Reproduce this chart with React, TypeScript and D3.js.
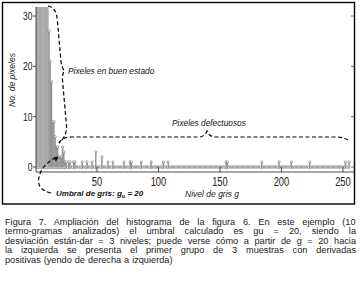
import React, { useMemo } from 'react';
import * as d3 from 'd3';

const W = 363;
const H = 281;

// Number of pixels per gray level g = 0..255 (values above ~31 are clipped by the plot)
const levelCounts: number[] = [
  210, 180, 150, 120, 95, 80, 66, 55, 46, 40,
  34, 27, 21, 17, 9, 9, 6, 4, 4, 2,
  2, 2, 4, 3, 1, 1, 0, 1, 1, 0,
  0, 1, 1, 0, 0, 0, 0, 0, 1, 0,
  0, 0, 1, 0, 0, 0, 1, 0, 0, 3,
  0, 0, 0, 0, 2, 0, 0, 0, 0, 1,
  0, 0, 0, 1, 0, 0, 0, 0, 0, 0,
  0, 0, 1, 0, 0, 0, 0, 1, 1, 0,
  0, 0, 0, 0, 0, 0, 1, 0, 0, 0,
  0, 0, 0, 0, 1, 0, 0, 0, 0, 0,
  0, 0, 0, 0, 1, 0, 0, 0, 1, 0,
  0, 0, 0, 0, 0, 0, 0, 0, 0, 0,
  0, 0, 0, 0, 0, 0, 0, 0, 0, 0,
  0, 0, 0, 0, 0, 0, 0, 0, 0, 0,
  0, 0, 0, 0, 0, 0, 0, 0, 0, 0,
  0, 0, 0, 0, 0, 1, 1, 0, 0, 0,
  0, 0, 0, 0, 0, 0, 0, 0, 0, 0,
  0, 0, 0, 0, 0, 0, 0, 0, 0, 0,
  0, 0, 0, 0, 1, 0, 0, 0, 0, 0,
  0, 0, 0, 0, 0, 0, 0, 0, 1, 0,
  0, 0, 0, 0, 0, 0, 0, 0, 1, 0,
  0, 0, 0, 0, 0, 0, 0, 0, 0, 0,
  0, 0, 0, 1, 0, 0, 0, 0, 0, 0,
  0, 0, 0, 0, 0, 0, 0, 0, 0, 0,
  0, 0, 0, 0, 0, 0, 0, 0, 0, 0,
  0, 0, 1, 0, 0, 1,
];

const xTicks = [50, 100, 150, 200, 250];
const yTicks = [0, 10, 20, 30];

const yAxisTitle = 'No. de pixeles';
const xAxisTitle = 'Nivel de gris g';
const goodLabel = 'Pixeles en buen estado';
const badLabel = 'Pixeles defectuosos';

const captionLines = [
  'Figura 7. Ampliación del histograma de la figura 6. En este ejemplo (10',
  'termo-gramas analizados) el umbral calculado es gu = 20, siendo la',
  'desviación están-dar = 3 niveles; puede verse cómo a partir de g = 20 hacia',
  'la izquierda se presenta el primer grupo de 3 muestras con derivadas',
  'positivas (yendo de derecha a izquierda)',
];

const CAP_FONT_SIZE = 9.2;
const CAP_FAMILY = '"Liberation Sans", Arial, sans-serif';

function measure(text: string): number {
  const c = document.createElement('canvas');
  const ctx = c.getContext('2d');
  if (!ctx) return text.length * CAP_FONT_SIZE * 0.5;
  ctx.font = `${CAP_FONT_SIZE}px ${CAP_FAMILY}`;
  return ctx.measureText(text).width;
}

export default function App() {
  const plot = { left: 36, right: 354, top: 7, bottom: 172 };
  const x = d3.scaleLinear().domain([0, 259]).range([35.5, 354]);
  const y = d3.scaleLinear().domain([0, 30]).range([167, 16]);
  const step = x(1) - x(0);

  const caption = useMemo(() => {
    const left = 5;
    const right = 356;
    const baseY = 225;
    const lh = 9.4;
    return captionLines.map((line, i) => {
      const isLast = i === captionLines.length - 1;
      const nSpaces = line.split(' ').length - 1;
      const full = measure(line);
      const ws = isLast ? 0.4 : Math.max(0, (right - left - full) / nSpaces);
      return { line, y: baseY + i * lh, ws, x: left, key: i };
    });
  }, []);

  const data = levelCounts.map((v, g) => ({ g, v }));

  return (
    <svg width={W} height={H} style={{ display: 'block', position: 'absolute', left: 0, top: 0 }}>
      <defs>
        <clipPath id="plotClip">
          <rect x={plot.left} y={plot.top} width={plot.right - plot.left} height={plot.bottom - plot.top} />
        </clipPath>
      </defs>
      <rect x={0} y={0} width={W} height={H} fill="#fff" />

      {/* outer frame */}
      <rect x={2.5} y={2.5} width={352} height={201.5} fill="none" stroke="#000" strokeWidth={1.4} />

      <g clipPath="url(#plotClip)">
        {/* grey histogram bars */}
        {data.filter((d) => d.v > 0).map((d) => (
          <rect
            key={`b${d.g}`}
            x={x(d.g) - step / 2}
            y={y(d.v)}
            width={step}
            height={y(0) - y(d.v) + 2}
            fill="#bdbdbd"
            stroke="#a5a5a5"
            strokeWidth={0.25}
          />
        ))}
        {/* stems */}
        {data.filter((d) => d.v > 0).map((d) => (
          <line
            key={`s${d.g}`}
            x1={x(d.g)}
            x2={x(d.g)}
            y1={y(0)}
            y2={y(d.v)}
            stroke={d.g <= 10 ? '#959595' : '#666'}
            strokeWidth={0.5}
          />
        ))}
        {/* markers */}
        {data.filter((d) => d.g >= 11).map((d) => (
          <circle key={`c${d.g}`} cx={x(d.g)} cy={y(d.v)} r={1.15} fill="#fff" stroke="#555" strokeWidth={0.5} />
        ))}
      </g>

      {/* axes */}
      <line x1={plot.left} x2={plot.left} y1={plot.top} y2={plot.bottom} stroke="#222" strokeWidth={0.8} />
      <line x1={plot.left} x2={plot.right} y1={plot.bottom} y2={plot.bottom} stroke="#222" strokeWidth={0.8} />
      {yTicks.map((t) => (
        <g key={`yt${t}`}>
          <line x1={plot.left - 3} x2={plot.left} y1={y(t)} y2={y(t)} stroke="#222" strokeWidth={0.8} />
          <line x1={plot.right - 3} x2={plot.right} y1={y(t)} y2={y(t)} stroke="#444" strokeWidth={0.8} />
          <text
            transform={`translate(${plot.left - 3.5},${y(t) + 4}) scale(0.75,1)`}
            textAnchor="end"
            fontFamily="Liberation Sans, Arial, sans-serif"
            fontSize={11.5}
            fill="#222"
          >
            {t}
          </text>
        </g>
      ))}
      {xTicks.map((t) => (
        <g key={`xt${t}`}>
          <line x1={x(t)} x2={x(t)} y1={plot.bottom} y2={plot.bottom - 5} stroke="#222" strokeWidth={0.8} />
          <text
            transform={`translate(${x(t)},${plot.bottom + 14}) scale(0.72,1)`}
            textAnchor="middle"
            fontFamily="Liberation Sans, Arial, sans-serif"
            fontSize={13}
            fill="#222"
          >
            {t}
          </text>
        </g>
      ))}

      {/* axis titles */}
      <text
        transform="translate(15,80) rotate(-90)"
        textAnchor="middle"
        fontFamily="Liberation Sans, Arial, sans-serif"
        fontStyle="italic"
        fontSize={8.5}
        fill="#222"
      >
        {yAxisTitle}
      </text>
      <text x={212} y={197} textAnchor="middle" fontFamily="Liberation Sans, Arial, sans-serif" fontStyle="italic" fontSize={8.5} fill="#222">
        {xAxisTitle}
      </text>

      {/* annotation braces */}
      <g fill="none" stroke="#000" strokeWidth={1.2} strokeDasharray="4,2.5">
        <path d="M48,6 C54,7 57,12 57.5,22 L61,62 Q62,68 64.5,71 Q62,74 62.5,80 L66.5,126 Q67,136 59,143" />
        <path d="M59,143 Q62,137 72,137 L200,137 Q205,136 207,131 Q209,136 214,137 L336,137 Q345,137 349,141" />
        <path d="M51,193 Q38,190 38.5,180 Q40,166 55,158" />
      </g>
      <path d="M58.5,156.5 L53.5,157.5 L56,161.5 Z" fill="#000" />

      <text x={68} y={74} fontFamily="Liberation Sans, Arial, sans-serif" fontStyle="italic" fontSize={8.3} fill="#111">
        {goodLabel}
      </text>
      <text x={172} y={126} fontFamily="Liberation Sans, Arial, sans-serif" fontStyle="italic" fontSize={8.3} fill="#111">
        {badLabel}
      </text>
      <text x={56} y={196} fontFamily="Liberation Sans, Arial, sans-serif" fontStyle="italic" fontWeight="bold" fontSize={8} fill="#111">
        Umbral de gris: g<tspan fontSize={5.5} dy={1.5}>u</tspan><tspan dy={-1.5}> = 20</tspan>
      </text>

      {/* caption */}
      {caption.map((c) => (
        <text
          key={c.key}
          x={c.x}
          y={c.y}
          fontFamily={CAP_FAMILY}
          fontSize={CAP_FONT_SIZE}
          fill="#1a1a1a"
          style={{ wordSpacing: `${c.ws}px` }}
        >
          {c.line}
        </text>
      ))}
    </svg>
  );
}
